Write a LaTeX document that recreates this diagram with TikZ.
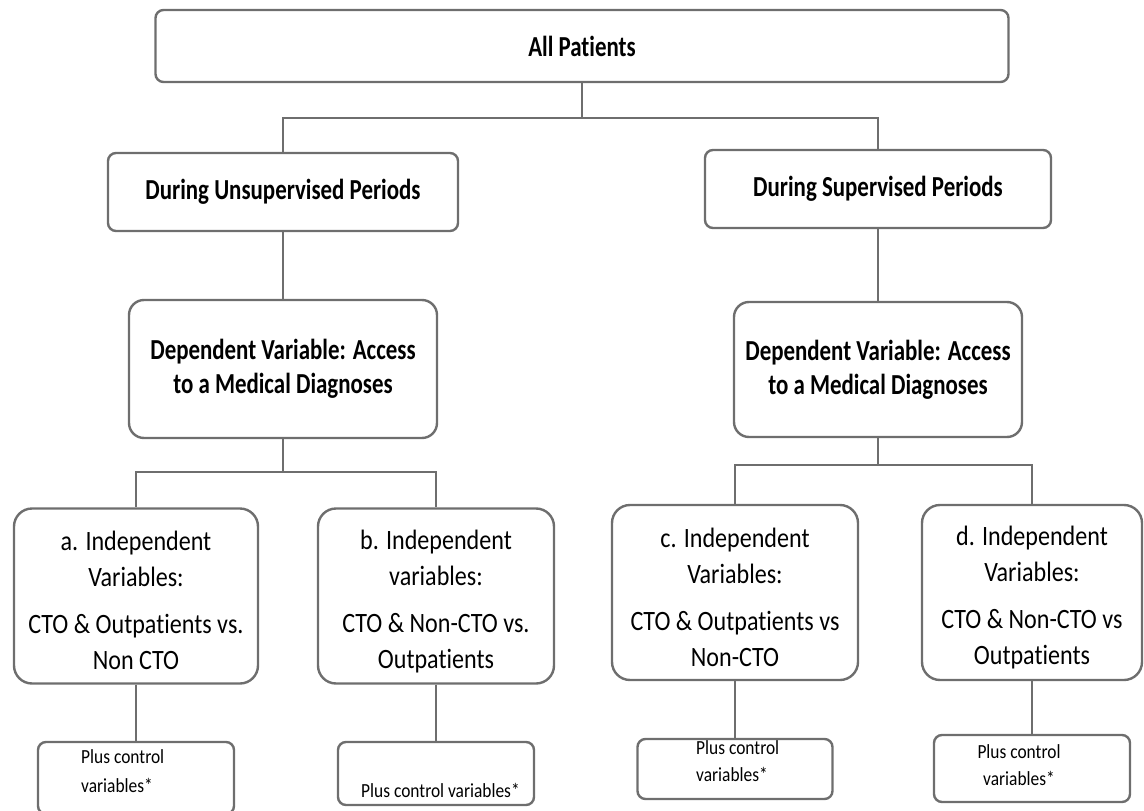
\documentclass[tikz,border=0pt]{standalone}
\usepackage{fontspec}
\setmainfont{Carlito}[Ligatures=NoCommon]
\newfontfamily\fb{Carlito}[FakeStretch=0.79,Ligatures=NoCommon]
\newfontfamily\fr{Carlito}[FakeStretch=0.86,Ligatures=NoCommon]
\newfontfamily\fp{Carlito}[FakeStretch=0.87,Ligatures=NoCommon]
\definecolor{lc}{HTML}{6E6E6E}
\begin{document}
\begin{tikzpicture}[x=1pt,y=-1pt,
  box/.style={draw=lc, line width=2.4pt, rounded corners=#1, inner sep=0pt, align=center},
  box/.default=8pt,
  conn/.style={draw=lc, line width=2.4pt},
  btxt/.style={font=\fb\fontsize{29}{34}\selectfont\bfseries, align=center, inner sep=0pt},
  itxt/.style={font=\fr\fontsize{28}{36}\selectfont, align=center, inner sep=0pt},
  ptxt/.style={font=\fp\fontsize{20}{27}\selectfont, inner sep=0pt},
]
\useasboundingbox (0,0) rectangle (1144,811);
% level 0
\node[box, minimum width=853pt, minimum height=72pt, btxt] (top) at (582,46) {All Patients};
% level 1
\node[box, minimum width=350pt, minimum height=78pt, btxt] (U) at (283,192) {During Unsupervised Periods};
\node[box, minimum width=346pt, minimum height=78pt, btxt] (S) at (878,189) {During Supervised Periods};
% level 2
\node[box=15pt, minimum width=308pt, minimum height=138pt, btxt] (DL) at (283,369) {Dependent Variable: Access\\to a Medical Diagnoses};
\node[box=15pt, minimum width=288pt, minimum height=135pt, btxt] (DR) at (878,369.5) {Dependent Variable: Access\\to a Medical Diagnoses};
% level 3
\node[box=18pt, minimum width=244pt, minimum height=175pt] (a) at (136,596) {};
\node[box=18pt, minimum width=236pt, minimum height=175pt] (b) at (436,596) {};
\node[box=18pt, minimum width=246pt, minimum height=175pt] (c) at (735,592.5) {};
\node[box=18pt, minimum width=220pt, minimum height=175pt] (d) at (1032,592.5) {};
\node[itxt] (ta) at (136,600) {a. Independent\\Variables:\\[11pt]CTO \& Outpatients vs.\\Non CTO};
\node[itxt] (tb) at (436,602) {b. Independent\\variables:\\[11pt]CTO \& Non-CTO vs.\\Outpatients};
\node[itxt] (tc) at (735,597) {c. Independent\\Variables:\\[11pt]CTO \& Outpatients vs\\Non-CTO};
\node[itxt] (td) at (1032,598) {d. Independent\\Variables:\\[11pt]CTO \& Non-CTO vs\\Outpatients};
% level 4
\node[box=8pt, minimum width=196pt, minimum height=72pt] (pa) at (136,778) {};
\node[box=8pt, minimum width=196pt, minimum height=63pt] (pb) at (436,773.5) {};
\node[box=8pt, minimum width=195pt, minimum height=60pt] (pc) at (735,769) {};
\node[box=8pt, minimum width=196pt, minimum height=67pt] (pd) at (1032,768.5) {};
\node[ptxt, anchor=base west] (pa1) at (81,763) {Plus control};
\node[ptxt, anchor=base west] (pa2) at (81,792) {variables*};
\node[ptxt, anchor=base west] (pb1) at (361,797) {Plus control variables*};
\node[ptxt, anchor=base west] (pc1) at (696,754) {Plus control};
\node[ptxt, anchor=base west] (pc2) at (696,781) {variables*};
\node[ptxt, anchor=base] (pd1) at (1019,758) {Plus control};
\node[ptxt, anchor=base] (pd2) at (1019,785) {variables*};
% connectors
\coordinate (j0) at (582,118);
\coordinate (jl) at (283,472);
\coordinate (jr) at (878,465);
\draw[conn] (top.south) -- (j0) -| (U.north);
\draw[conn] (j0) -| (S.north);
\draw[conn] (U.south) -- (DL.north);
\draw[conn] (S.south) -- (DR.north);
\draw[conn] (DL.south) -- (jl) -| (a.north);
\draw[conn] (jl) -| (b.north);
\draw[conn] (DR.south) -- (jr) -| (c.north);
\draw[conn] (jr) -| (d.north);
\draw[conn] (a.south) -- (pa.north);
\draw[conn] (b.south) -- (pb.north);
\draw[conn] (c.south) -- (pc.north);
\draw[conn] (d.south) -- (pd.north);
\end{tikzpicture}
\end{document}
